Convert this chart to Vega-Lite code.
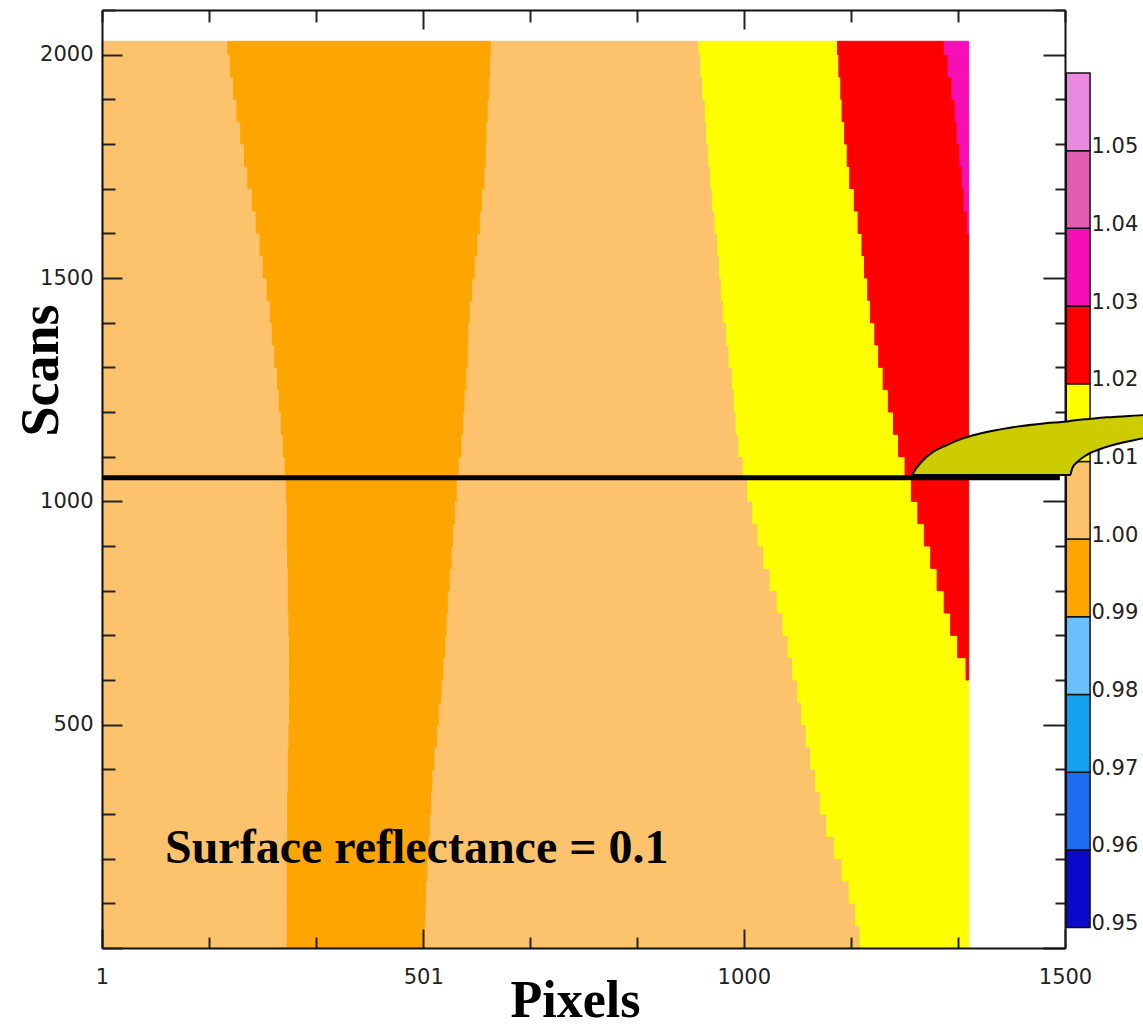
{
"$schema": "https://vega.github.io/schema/vega-lite/v6.json",
"width": 963,
"height": 938,
"autosize": {"type": "none"},
"padding": {"left": 102, "top": 10, "right": 78, "bottom": 81},
"background": "white",
"config": {"view": {"stroke": null}, "axis": {"grid": false}},
"datasets": {
"field": [
{"s0":0,"s1":50,"x0":1,"x1":289,"v":"1.00"},{"s0":0,"s1":50,"x0":289,"x1":504,"v":"0.99"},{"s0":0,"s1":50,"x0":504,"x1":1181,"v":"1.00"},{"s0":0,"s1":50,"x0":1181,"x1":1350,"v":"1.01"},
{"s0":50,"s1":100,"x0":1,"x1":289,"v":"1.00"},{"s0":50,"s1":100,"x0":289,"x1":505,"v":"0.99"},{"s0":50,"s1":100,"x0":505,"x1":1174,"v":"1.00"},{"s0":50,"s1":100,"x0":1174,"x1":1350,"v":"1.01"},
{"s0":100,"s1":150,"x0":1,"x1":289,"v":"1.00"},{"s0":100,"s1":150,"x0":289,"x1":506,"v":"0.99"},{"s0":100,"s1":150,"x0":506,"x1":1164,"v":"1.00"},{"s0":100,"s1":150,"x0":1164,"x1":1350,"v":"1.01"},
{"s0":150,"s1":200,"x0":1,"x1":289,"v":"1.00"},{"s0":150,"s1":200,"x0":289,"x1":508,"v":"0.99"},{"s0":150,"s1":200,"x0":508,"x1":1153,"v":"1.00"},{"s0":150,"s1":200,"x0":1153,"x1":1350,"v":"1.01"},
{"s0":200,"s1":250,"x0":1,"x1":290,"v":"1.00"},{"s0":200,"s1":250,"x0":290,"x1":510,"v":"0.99"},{"s0":200,"s1":250,"x0":510,"x1":1141,"v":"1.00"},{"s0":200,"s1":250,"x0":1141,"x1":1350,"v":"1.01"},
{"s0":250,"s1":300,"x0":1,"x1":290,"v":"1.00"},{"s0":250,"s1":300,"x0":290,"x1":512,"v":"0.99"},{"s0":250,"s1":300,"x0":512,"x1":1129,"v":"1.00"},{"s0":250,"s1":300,"x0":1129,"x1":1350,"v":"1.01"},
{"s0":300,"s1":350,"x0":1,"x1":290,"v":"1.00"},{"s0":300,"s1":350,"x0":290,"x1":514,"v":"0.99"},{"s0":300,"s1":350,"x0":514,"x1":1119,"v":"1.00"},{"s0":300,"s1":350,"x0":1119,"x1":1350,"v":"1.01"},
{"s0":350,"s1":400,"x0":1,"x1":291,"v":"1.00"},{"s0":350,"s1":400,"x0":291,"x1":516,"v":"0.99"},{"s0":350,"s1":400,"x0":516,"x1":1112,"v":"1.00"},{"s0":350,"s1":400,"x0":1112,"x1":1350,"v":"1.01"},
{"s0":400,"s1":450,"x0":1,"x1":291,"v":"1.00"},{"s0":400,"s1":450,"x0":291,"x1":519,"v":"0.99"},{"s0":400,"s1":450,"x0":519,"x1":1104,"v":"1.00"},{"s0":400,"s1":450,"x0":1104,"x1":1350,"v":"1.01"},
{"s0":450,"s1":500,"x0":1,"x1":292,"v":"1.00"},{"s0":450,"s1":500,"x0":292,"x1":523,"v":"0.99"},{"s0":450,"s1":500,"x0":523,"x1":1097,"v":"1.00"},{"s0":450,"s1":500,"x0":1097,"x1":1350,"v":"1.01"},
{"s0":500,"s1":550,"x0":1,"x1":293,"v":"1.00"},{"s0":500,"s1":550,"x0":293,"x1":526,"v":"0.99"},{"s0":500,"s1":550,"x0":526,"x1":1090,"v":"1.00"},{"s0":500,"s1":550,"x0":1090,"x1":1350,"v":"1.01"},
{"s0":550,"s1":600,"x0":1,"x1":293,"v":"1.00"},{"s0":550,"s1":600,"x0":293,"x1":530,"v":"0.99"},{"s0":550,"s1":600,"x0":530,"x1":1084,"v":"1.00"},{"s0":550,"s1":600,"x0":1084,"x1":1350,"v":"1.01"},
{"s0":600,"s1":650,"x0":1,"x1":293,"v":"1.00"},{"s0":600,"s1":650,"x0":293,"x1":533,"v":"0.99"},{"s0":600,"s1":650,"x0":533,"x1":1076,"v":"1.00"},{"s0":600,"s1":650,"x0":1076,"x1":1346,"v":"1.01"},{"s0":600,"s1":650,"x0":1346,"x1":1350,"v":"1.02"},
{"s0":650,"s1":700,"x0":1,"x1":293,"v":"1.00"},{"s0":650,"s1":700,"x0":293,"x1":536,"v":"0.99"},{"s0":650,"s1":700,"x0":536,"x1":1069,"v":"1.00"},{"s0":650,"s1":700,"x0":1069,"x1":1333,"v":"1.01"},{"s0":650,"s1":700,"x0":1333,"x1":1350,"v":"1.02"},
{"s0":700,"s1":750,"x0":1,"x1":292,"v":"1.00"},{"s0":700,"s1":750,"x0":292,"x1":538,"v":"0.99"},{"s0":700,"s1":750,"x0":538,"x1":1061,"v":"1.00"},{"s0":700,"s1":750,"x0":1061,"x1":1322,"v":"1.01"},{"s0":700,"s1":750,"x0":1322,"x1":1350,"v":"1.02"},
{"s0":750,"s1":800,"x0":1,"x1":291,"v":"1.00"},{"s0":750,"s1":800,"x0":291,"x1":540,"v":"0.99"},{"s0":750,"s1":800,"x0":540,"x1":1052,"v":"1.00"},{"s0":750,"s1":800,"x0":1052,"x1":1312,"v":"1.01"},{"s0":750,"s1":800,"x0":1312,"x1":1350,"v":"1.02"},
{"s0":800,"s1":850,"x0":1,"x1":291,"v":"1.00"},{"s0":800,"s1":850,"x0":291,"x1":543,"v":"0.99"},{"s0":800,"s1":850,"x0":543,"x1":1041,"v":"1.00"},{"s0":800,"s1":850,"x0":1041,"x1":1301,"v":"1.01"},{"s0":800,"s1":850,"x0":1301,"x1":1350,"v":"1.02"},
{"s0":850,"s1":900,"x0":1,"x1":290,"v":"1.00"},{"s0":850,"s1":900,"x0":290,"x1":546,"v":"0.99"},{"s0":850,"s1":900,"x0":546,"x1":1031,"v":"1.00"},{"s0":850,"s1":900,"x0":1031,"x1":1291,"v":"1.01"},{"s0":850,"s1":900,"x0":1291,"x1":1350,"v":"1.02"},
{"s0":900,"s1":950,"x0":1,"x1":289,"v":"1.00"},{"s0":900,"s1":950,"x0":289,"x1":548,"v":"0.99"},{"s0":900,"s1":950,"x0":548,"x1":1022,"v":"1.00"},{"s0":900,"s1":950,"x0":1022,"x1":1281,"v":"1.01"},{"s0":900,"s1":950,"x0":1281,"x1":1350,"v":"1.02"},
{"s0":950,"s1":1000,"x0":1,"x1":289,"v":"1.00"},{"s0":950,"s1":1000,"x0":289,"x1":551,"v":"0.99"},{"s0":950,"s1":1000,"x0":551,"x1":1014,"v":"1.00"},{"s0":950,"s1":1000,"x0":1014,"x1":1271,"v":"1.01"},{"s0":950,"s1":1000,"x0":1271,"x1":1350,"v":"1.02"},
{"s0":1000,"s1":1050,"x0":1,"x1":288,"v":"1.00"},{"s0":1000,"s1":1050,"x0":288,"x1":554,"v":"0.99"},{"s0":1000,"s1":1050,"x0":554,"x1":1006,"v":"1.00"},{"s0":1000,"s1":1050,"x0":1006,"x1":1261,"v":"1.01"},{"s0":1000,"s1":1050,"x0":1261,"x1":1350,"v":"1.02"},
{"s0":1050,"s1":1100,"x0":1,"x1":286,"v":"1.00"},{"s0":1050,"s1":1100,"x0":286,"x1":557,"v":"0.99"},{"s0":1050,"s1":1100,"x0":557,"x1":999,"v":"1.00"},{"s0":1050,"s1":1100,"x0":999,"x1":1251,"v":"1.01"},{"s0":1050,"s1":1100,"x0":1251,"x1":1350,"v":"1.02"},
{"s0":1100,"s1":1150,"x0":1,"x1":283,"v":"1.00"},{"s0":1100,"s1":1150,"x0":283,"x1":561,"v":"0.99"},{"s0":1100,"s1":1150,"x0":561,"x1":992,"v":"1.00"},{"s0":1100,"s1":1150,"x0":992,"x1":1241,"v":"1.01"},{"s0":1100,"s1":1150,"x0":1241,"x1":1350,"v":"1.02"},
{"s0":1150,"s1":1200,"x0":1,"x1":280,"v":"1.00"},{"s0":1150,"s1":1200,"x0":280,"x1":564,"v":"0.99"},{"s0":1150,"s1":1200,"x0":564,"x1":988,"v":"1.00"},{"s0":1150,"s1":1200,"x0":988,"x1":1233,"v":"1.01"},{"s0":1150,"s1":1200,"x0":1233,"x1":1350,"v":"1.02"},
{"s0":1200,"s1":1250,"x0":1,"x1":277,"v":"1.00"},{"s0":1200,"s1":1250,"x0":277,"x1":566,"v":"0.99"},{"s0":1200,"s1":1250,"x0":566,"x1":985,"v":"1.00"},{"s0":1200,"s1":1250,"x0":985,"x1":1225,"v":"1.01"},{"s0":1200,"s1":1250,"x0":1225,"x1":1350,"v":"1.02"},
{"s0":1250,"s1":1300,"x0":1,"x1":274,"v":"1.00"},{"s0":1250,"s1":1300,"x0":274,"x1":569,"v":"0.99"},{"s0":1250,"s1":1300,"x0":569,"x1":982,"v":"1.00"},{"s0":1250,"s1":1300,"x0":982,"x1":1217,"v":"1.01"},{"s0":1250,"s1":1300,"x0":1217,"x1":1350,"v":"1.02"},
{"s0":1300,"s1":1350,"x0":1,"x1":270,"v":"1.00"},{"s0":1300,"s1":1350,"x0":270,"x1":571,"v":"0.99"},{"s0":1300,"s1":1350,"x0":571,"x1":977,"v":"1.00"},{"s0":1300,"s1":1350,"x0":977,"x1":1210,"v":"1.01"},{"s0":1300,"s1":1350,"x0":1210,"x1":1350,"v":"1.02"},
{"s0":1350,"s1":1400,"x0":1,"x1":266,"v":"1.00"},{"s0":1350,"s1":1400,"x0":266,"x1":572,"v":"0.99"},{"s0":1350,"s1":1400,"x0":572,"x1":973,"v":"1.00"},{"s0":1350,"s1":1400,"x0":973,"x1":1204,"v":"1.01"},{"s0":1350,"s1":1400,"x0":1204,"x1":1350,"v":"1.02"},
{"s0":1400,"s1":1450,"x0":1,"x1":263,"v":"1.00"},{"s0":1400,"s1":1450,"x0":263,"x1":574,"v":"0.99"},{"s0":1400,"s1":1450,"x0":574,"x1":968,"v":"1.00"},{"s0":1400,"s1":1450,"x0":968,"x1":1197,"v":"1.01"},{"s0":1400,"s1":1450,"x0":1197,"x1":1350,"v":"1.02"},
{"s0":1450,"s1":1500,"x0":1,"x1":258,"v":"1.00"},{"s0":1450,"s1":1500,"x0":258,"x1":578,"v":"0.99"},{"s0":1450,"s1":1500,"x0":578,"x1":965,"v":"1.00"},{"s0":1450,"s1":1500,"x0":965,"x1":1193,"v":"1.01"},{"s0":1450,"s1":1500,"x0":1193,"x1":1350,"v":"1.02"},
{"s0":1500,"s1":1550,"x0":1,"x1":252,"v":"1.00"},{"s0":1500,"s1":1550,"x0":252,"x1":582,"v":"0.99"},{"s0":1500,"s1":1550,"x0":582,"x1":962,"v":"1.00"},{"s0":1500,"s1":1550,"x0":962,"x1":1188,"v":"1.01"},{"s0":1500,"s1":1550,"x0":1188,"x1":1350,"v":"1.02"},
{"s0":1550,"s1":1600,"x0":1,"x1":247,"v":"1.00"},{"s0":1550,"s1":1600,"x0":247,"x1":586,"v":"0.99"},{"s0":1550,"s1":1600,"x0":586,"x1":959,"v":"1.00"},{"s0":1550,"s1":1600,"x0":959,"x1":1184,"v":"1.01"},{"s0":1550,"s1":1600,"x0":1184,"x1":1350,"v":"1.02"},
{"s0":1600,"s1":1650,"x0":1,"x1":241,"v":"1.00"},{"s0":1600,"s1":1650,"x0":241,"x1":590,"v":"0.99"},{"s0":1600,"s1":1650,"x0":590,"x1":955,"v":"1.00"},{"s0":1600,"s1":1650,"x0":955,"x1":1178,"v":"1.01"},{"s0":1600,"s1":1650,"x0":1178,"x1":1348,"v":"1.02"},{"s0":1600,"s1":1650,"x0":1348,"x1":1350,"v":"1.03"},
{"s0":1650,"s1":1700,"x0":1,"x1":235,"v":"1.00"},{"s0":1650,"s1":1700,"x0":235,"x1":593,"v":"0.99"},{"s0":1650,"s1":1700,"x0":593,"x1":951,"v":"1.00"},{"s0":1650,"s1":1700,"x0":951,"x1":1172,"v":"1.01"},{"s0":1650,"s1":1700,"x0":1172,"x1":1343,"v":"1.02"},{"s0":1650,"s1":1700,"x0":1343,"x1":1350,"v":"1.03"},
{"s0":1700,"s1":1750,"x0":1,"x1":228,"v":"1.00"},{"s0":1700,"s1":1750,"x0":228,"x1":597,"v":"0.99"},{"s0":1700,"s1":1750,"x0":597,"x1":948,"v":"1.00"},{"s0":1700,"s1":1750,"x0":948,"x1":1165,"v":"1.01"},{"s0":1700,"s1":1750,"x0":1165,"x1":1340,"v":"1.02"},{"s0":1700,"s1":1750,"x0":1340,"x1":1350,"v":"1.03"},
{"s0":1750,"s1":1800,"x0":1,"x1":223,"v":"1.00"},{"s0":1750,"s1":1800,"x0":223,"x1":599,"v":"0.99"},{"s0":1750,"s1":1800,"x0":599,"x1":945,"v":"1.00"},{"s0":1750,"s1":1800,"x0":945,"x1":1161,"v":"1.01"},{"s0":1750,"s1":1800,"x0":1161,"x1":1336,"v":"1.02"},{"s0":1750,"s1":1800,"x0":1336,"x1":1350,"v":"1.03"},
{"s0":1800,"s1":1850,"x0":1,"x1":217,"v":"1.00"},{"s0":1800,"s1":1850,"x0":217,"x1":600,"v":"0.99"},{"s0":1800,"s1":1850,"x0":600,"x1":942,"v":"1.00"},{"s0":1800,"s1":1850,"x0":942,"x1":1157,"v":"1.01"},{"s0":1800,"s1":1850,"x0":1157,"x1":1332,"v":"1.02"},{"s0":1800,"s1":1850,"x0":1332,"x1":1350,"v":"1.03"},
{"s0":1850,"s1":1900,"x0":1,"x1":211,"v":"1.00"},{"s0":1850,"s1":1900,"x0":211,"x1":602,"v":"0.99"},{"s0":1850,"s1":1900,"x0":602,"x1":940,"v":"1.00"},{"s0":1850,"s1":1900,"x0":940,"x1":1153,"v":"1.01"},{"s0":1850,"s1":1900,"x0":1153,"x1":1329,"v":"1.02"},{"s0":1850,"s1":1900,"x0":1329,"x1":1350,"v":"1.03"},
{"s0":1900,"s1":1950,"x0":1,"x1":206,"v":"1.00"},{"s0":1900,"s1":1950,"x0":206,"x1":604,"v":"0.99"},{"s0":1900,"s1":1950,"x0":604,"x1":936,"v":"1.00"},{"s0":1900,"s1":1950,"x0":936,"x1":1151,"v":"1.01"},{"s0":1900,"s1":1950,"x0":1151,"x1":1324,"v":"1.02"},{"s0":1900,"s1":1950,"x0":1324,"x1":1350,"v":"1.03"},
{"s0":1950,"s1":2000,"x0":1,"x1":201,"v":"1.00"},{"s0":1950,"s1":2000,"x0":201,"x1":606,"v":"0.99"},{"s0":1950,"s1":2000,"x0":606,"x1":933,"v":"1.00"},{"s0":1950,"s1":2000,"x0":933,"x1":1148,"v":"1.01"},{"s0":1950,"s1":2000,"x0":1148,"x1":1318,"v":"1.02"},{"s0":1950,"s1":2000,"x0":1318,"x1":1350,"v":"1.03"},
{"s0":2000,"s1":2030,"x0":1,"x1":197,"v":"1.00"},{"s0":2000,"s1":2030,"x0":197,"x1":607,"v":"0.99"},{"s0":2000,"s1":2030,"x0":607,"x1":930,"v":"1.00"},{"s0":2000,"s1":2030,"x0":930,"x1":1146,"v":"1.01"},{"s0":2000,"s1":2030,"x0":1146,"x1":1312,"v":"1.02"},{"s0":2000,"s1":2030,"x0":1312,"x1":1350,"v":"1.03"}
],
"bar": [
{"lo":0.95,"hi":0.96,"v":"0.95"},{"lo":0.96,"hi":0.97,"v":"0.96"},{"lo":0.97,"hi":0.98,"v":"0.97"},{"lo":0.98,"hi":0.99,"v":"0.98"},{"lo":0.99,"hi":1.00,"v":"0.99"},{"lo":1.00,"hi":1.01,"v":"1.00"},{"lo":1.01,"hi":1.02,"v":"1.01"},{"lo":1.02,"hi":1.03,"v":"1.02"},{"lo":1.03,"hi":1.04,"v":"1.03"},{"lo":1.04,"hi":1.05,"v":"1.04"},{"lo":1.05,"hi":1.06,"v":"1.05"}
],
"callout": [
{"cx":1262,"top":1059,"bot":1059},{"cx":1268,"top":1073,"bot":1059},{"cx":1279,"top":1092,"bot":1059},{"cx":1294,"top":1110,"bot":1059},{"cx":1316,"top":1126,"bot":1059},{"cx":1341,"top":1141,"bot":1059},{"cx":1368,"top":1152,"bot":1059},{"cx":1419,"top":1166,"bot":1059},{"cx":1470,"top":1175,"bot":1059},{"cx":1508,"top":1180,"bot":1059},{"cx":1511,"top":1181,"bot":1073},{"cx":1519,"top":1182,"bot":1088},{"cx":1534,"top":1184,"bot":1104},{"cx":1565,"top":1188,"bot":1122},{"cx":1621,"top":1193,"bot":1141},{"cx":1663,"top":1197,"bot":1153}
]
},
"layer": [
{
"data": {"name": "field"},
"mark": {"type": "rect", "strokeWidth": 1},
"encoding": {
"x": {"field": "x0", "type": "quantitative", "scale": {"domain": [1, 1500], "nice": false, "zero": false},
"axis": {"orient": "bottom", "values": [1, 167, 334, 501, 667, 834, 1000, 1167, 1333, 1500], "format": "d",
"labelExpr": "(datum.value == 1 || datum.value == 501 || datum.value == 1000 || datum.value == 1500) ? datum.label : ''",
"labelOverlap": false, "labelFlush": false, "labelFont": "DejaVu Sans", "labelFontSize": 21, "labelColor": "#222", "labelPadding": 37,
"tickSize": {"condition": {"test": "datum.value == 1 || datum.value == 501 || datum.value == 1000 || datum.value == 1500", "value": -19}, "value": -11},
"tickColor": "#222", "tickWidth": 2, "domain": true, "domainColor": "#111", "domainWidth": 2, "zindex": 1,
"title": "Pixels", "titleFont": "Liberation Serif", "titleFontWeight": "bold", "titleFontSize": 52, "titleColor": "#000",
"titleX": 473, "titleY": 68, "titleBaseline": "alphabetic", "titleAlign": "center", "titleAngle": 0}},
"x2": {"field": "x1"},
"y": {"field": "s0", "type": "quantitative", "scale": {"domain": [0, 2100], "nice": false, "zero": false},
"axis": {"orient": "left", "values": [0,100,200,300,400,500,600,700,800,900,1000,1100,1200,1300,1400,1500,1600,1700,1800,1900,2000,2100], "format": "d",
"labelExpr": "(datum.value % 500 == 0 && datum.value > 0) ? datum.label : ''",
"labelOverlap": false, "labelFlush": false, "labelFont": "DejaVu Sans", "labelFontSize": 21, "labelColor": "#222", "labelPadding": 29,
"tickSize": {"condition": {"test": "datum.value % 500 == 0", "value": -20}, "value": -13},
"tickColor": "#222", "tickWidth": 2, "domain": true, "domainColor": "#111", "domainWidth": 2, "zindex": 1,
"title": "Scans", "titleFont": "Liberation Serif", "titleFontWeight": "bold", "titleFontSize": 54, "titleColor": "#000",
"titleX": -45, "titleY": 360, "titleAngle": -90, "titleBaseline": "alphabetic", "titleAlign": "center"}},
"y2": {"field": "s1"},
"color": {"field": "v", "type": "ordinal", "scale": {"domain": ["0.95","0.96","0.97","0.98","0.99","1.00","1.01","1.02","1.03","1.04","1.05"], "range": ["#0A0ACD","#1E6CF0","#12A2EE","#6CC0FA","#FFA500","#FDC36C","#FFFF00","#FF0000","#F50FB4","#E45CB2","#E88BE0"]}, "legend": null},
"stroke": {"field": "v", "type": "ordinal", "scale": {"domain": ["0.95","0.96","0.97","0.98","0.99","1.00","1.01","1.02","1.03","1.04","1.05"], "range": ["#0A0ACD","#1E6CF0","#12A2EE","#6CC0FA","#FFA500","#FDC36C","#FFFF00","#FF0000","#F50FB4","#E45CB2","#E88BE0"]}, "legend": null}
}
},
{
"data": {"name": "bar"},
"mark": {"type": "rect", "stroke": "#111", "strokeWidth": 1.5},
"encoding": {
"x": {"datum": 1502, "type": "quantitative", "scale": {"domain": [1, 1500], "nice": false, "zero": false}, "axis": null},
"x2": {"datum": 1539},
"y": {"field": "lo", "type": "quantitative", "scale": {"domain": [0.94736, 1.06811], "nice": false, "zero": false},
"axis": {"orient": "right", "offset": 25, "values": [0.95,0.96,0.97,0.98,0.99,1.00,1.01,1.02,1.03,1.04,1.05], "format": ".2f",
"ticks": false, "domain": false, "labelPadding": 1, "labelFont": "DejaVu Sans", "labelFontSize": 21, "labelColor": "#222",
"labelOffset": -4, "labelOverlap": false, "labelFlush": false, "title": null, "zindex": 0}},
"y2": {"field": "hi"},
"color": {"field": "v", "type": "ordinal", "scale": {"domain": ["0.95","0.96","0.97","0.98","0.99","1.00","1.01","1.02","1.03","1.04","1.05"], "range": ["#0A0ACD","#1E6CF0","#12A2EE","#6CC0FA","#FFA500","#FDC36C","#FFFF00","#FF0000","#F50FB4","#E45CB2","#E88BE0"]}, "legend": null}
}
},
{
"data": {"values": [{}]},
"mark": {"type": "rule", "strokeWidth": 5, "color": "#000"},
"encoding": {
"x": {"datum": 1, "type": "quantitative", "scale": {"domain": [1, 1500], "nice": false, "zero": false}, "axis": null},
"x2": {"datum": 1492},
"y": {"datum": 1053, "type": "quantitative", "scale": {"domain": [0, 2100], "nice": false, "zero": false}, "axis": null}
}
},
{
"data": {"values": [{"label": "Surface reflectance = 0.1"}]},
"mark": {"type": "text", "font": "Liberation Serif", "fontWeight": "bold", "fontSize": 48, "align": "left", "baseline": "alphabetic", "color": "#000"},
"encoding": {
"text": {"field": "label"},
"x": {"datum": 99, "type": "quantitative", "scale": {"domain": [1, 1500], "nice": false, "zero": false}, "axis": null},
"y": {"datum": 190, "type": "quantitative", "scale": {"domain": [0, 2100], "nice": false, "zero": false}, "axis": null}
}
},
{
"data": {"name": "callout"},
"mark": {"type": "area", "interpolate": "monotone", "fill": "#CCCC00", "stroke": "#000", "strokeWidth": 2, "orient": "vertical"},
"encoding": {
"x": {"field": "cx", "type": "quantitative", "scale": {"domain": [1, 1500], "nice": false, "zero": false},
"axis": {"orient": "top", "values": [1, 167, 334, 501, 667, 834, 1000, 1167, 1333, 1500], "labels": false,
"tickSize": {"condition": {"test": "datum.value == 501 || datum.value == 1000", "value": -19}, "value": -12},
"tickColor": "#222", "tickWidth": 2, "domain": true, "domainColor": "#111", "domainWidth": 2, "title": null, "zindex": 0}},
"y": {"field": "top", "type": "quantitative", "scale": {"domain": [0, 2100], "nice": false, "zero": false},
"axis": {"orient": "right", "values": [0,100,200,300,400,500,600,700,800,900,1000,1100,1200,1300,1400,1500,1600,1700,1800,1900,2000,2100], "labels": false,
"tickSize": {"condition": {"test": "datum.value % 500 == 0", "value": -22}, "value": -10},
"tickColor": "#222", "tickWidth": 2, "domain": true, "domainColor": "#111", "domainWidth": 2, "title": null, "zindex": 0}},
"y2": {"field": "bot"}
}
}
],
"resolve": {"scale": {"y": "independent"}, "axis": {"x": "independent", "y": "independent"}}
}
